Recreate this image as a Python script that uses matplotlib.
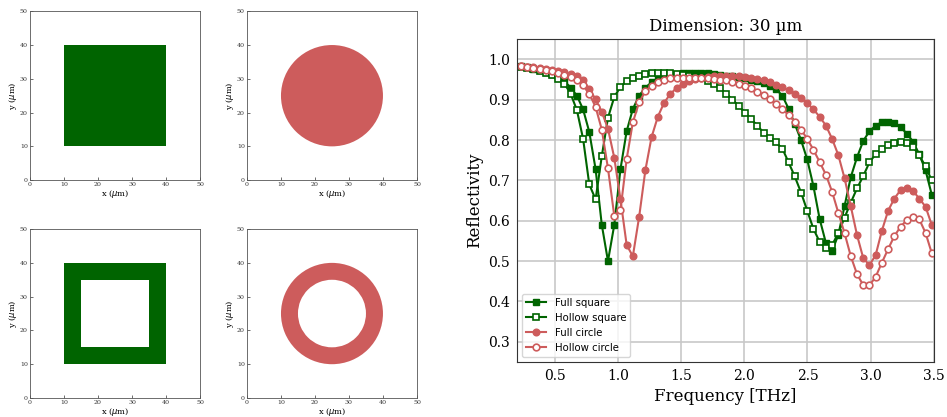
import matplotlib
matplotlib.use("Agg")
import matplotlib.pyplot as plt
from matplotlib.patches import Rectangle, Circle, Wedge

GREEN = "darkgreen"
RED = "indianred"

# frequency grid [THz]
freq = [0.230, 0.279, 0.329, 0.378, 0.427, 0.477, 0.526, 0.575, 0.624, 0.674,
        0.723, 0.772, 0.822, 0.871, 0.920, 0.970, 1.019, 1.068, 1.117, 1.167,
        1.216, 1.265, 1.315, 1.364, 1.413, 1.463, 1.512, 1.561, 1.610, 1.660,
        1.709, 1.758, 1.808, 1.857, 1.906, 1.956, 2.005, 2.054, 2.103, 2.153,
        2.202, 2.251, 2.301, 2.350, 2.399, 2.449, 2.498, 2.547, 2.596, 2.646,
        2.695, 2.744, 2.794, 2.843, 2.892, 2.942, 2.991, 3.040, 3.089, 3.139,
        3.188, 3.237, 3.287, 3.336, 3.385, 3.435, 3.484]

full_square = [0.983, 0.980, 0.977, 0.973, 0.969, 0.963, 0.957, 0.946, 0.930, 0.910,
               0.876, 0.820, 0.728, 0.590, 0.500, 0.590, 0.728, 0.822, 0.877, 0.910,
               0.930, 0.943, 0.952, 0.958, 0.962, 0.964, 0.965, 0.966, 0.966, 0.966,
               0.965, 0.964, 0.962, 0.960, 0.958, 0.956, 0.953, 0.950, 0.946, 0.942,
               0.935, 0.926, 0.910, 0.878, 0.840, 0.800, 0.752, 0.686, 0.605, 0.545,
               0.525, 0.565, 0.637, 0.708, 0.757, 0.798, 0.822, 0.836, 0.844, 0.846,
               0.842, 0.832, 0.816, 0.796, 0.765, 0.725, 0.665]

hollow_square = [0.982, 0.979, 0.976, 0.972, 0.967, 0.961, 0.952, 0.940, 0.915, 0.874,
                 0.803, 0.690, 0.653, 0.760, 0.855, 0.907, 0.932, 0.946, 0.954, 0.960,
                 0.963, 0.965, 0.966, 0.966, 0.965, 0.964, 0.962, 0.960, 0.957, 0.953,
                 0.947, 0.940, 0.928, 0.915, 0.900, 0.885, 0.868, 0.852, 0.836, 0.818,
                 0.805, 0.794, 0.779, 0.745, 0.710, 0.670, 0.625, 0.580, 0.548, 0.532,
                 0.540, 0.569, 0.608, 0.645, 0.680, 0.711, 0.745, 0.765, 0.778, 0.787,
                 0.792, 0.794, 0.792, 0.783, 0.762, 0.735, 0.700]

full_circle = [0.984, 0.982, 0.980, 0.978, 0.976, 0.974, 0.971, 0.968, 0.964, 0.958,
               0.948, 0.927, 0.901, 0.870, 0.828, 0.756, 0.653, 0.540, 0.512, 0.610,
               0.725, 0.807, 0.858, 0.892, 0.914, 0.929, 0.939, 0.946, 0.951, 0.954,
               0.956, 0.958, 0.959, 0.959, 0.959, 0.958, 0.957, 0.955, 0.952, 0.948,
               0.943, 0.937, 0.931, 0.923, 0.915, 0.905, 0.892, 0.876, 0.858, 0.836,
               0.803, 0.763, 0.705, 0.636, 0.565, 0.507, 0.490, 0.515, 0.575, 0.625,
               0.655, 0.676, 0.681, 0.674, 0.655, 0.635, 0.590]

hollow_circle = [0.984, 0.982, 0.979, 0.977, 0.974, 0.971, 0.967, 0.962, 0.956, 0.948,
                 0.936, 0.915, 0.882, 0.826, 0.730, 0.612, 0.627, 0.753, 0.844, 0.894,
                 0.921, 0.935, 0.944, 0.950, 0.953, 0.955, 0.955, 0.955, 0.955, 0.954,
                 0.953, 0.952, 0.950, 0.948, 0.945, 0.940, 0.935, 0.928, 0.920, 0.912,
                 0.902, 0.890, 0.877, 0.862, 0.846, 0.826, 0.803, 0.776, 0.746, 0.714,
                 0.672, 0.620, 0.569, 0.512, 0.468, 0.440, 0.440, 0.461, 0.496, 0.530,
                 0.562, 0.585, 0.602, 0.610, 0.604, 0.570, 0.520]

fig = plt.figure(figsize=(9.47, 4.17), dpi=100)

# ---------- geometry panels ----------
boxes = [(0.0317, 0.568), (0.2608, 0.568), (0.0317, 0.0456), (0.2608, 0.0456)]
geo_axes = [fig.add_axes([x0, y0, 0.1795, 0.405]) for x0, y0 in boxes]

geo_axes[0].add_patch(Rectangle((10, 10), 30, 30, color=GREEN, lw=0))
geo_axes[1].add_patch(Circle((25, 25), 15, color=RED, lw=0))
geo_axes[2].add_patch(Rectangle((10, 10), 30, 30, color=GREEN, lw=0))
geo_axes[2].add_patch(Rectangle((15, 15), 20, 20, color="white", lw=0))
geo_axes[3].add_patch(Wedge((25, 25), 15, 0, 360, width=5, color=RED, lw=0))

for ax in geo_axes:
    ax.set_xlim(0, 50)
    ax.set_ylim(0, 50)
    ax.set_xticks([0, 10, 20, 30, 40, 50])
    ax.set_yticks([0, 10, 20, 30, 40, 50])
    ax.tick_params(direction="in", labelsize=4.5, length=2, width=0.5,
                   pad=1.5, colors="#333333")
    for lab in ax.get_xticklabels() + ax.get_yticklabels():
        lab.set_family("DejaVu Serif")
    ax.set_xlabel(r"x ($\mu$m)", fontsize=6, family="DejaVu Serif", labelpad=0.5)
    ax.set_ylabel(r"y ($\mu$m)", fontsize=6, family="DejaVu Serif", labelpad=0.5)
    for s in ax.spines.values():
        s.set_linewidth(0.6)
        s.set_color("#555555")

# ---------- reflectivity panel ----------
ax = fig.add_axes([0.546, 0.132, 0.44, 0.774])
ax.plot(freq, full_square, "-s", color=GREEN, ms=4.5, lw=1.5, label="Full square")
ax.plot(freq, hollow_square, "-s", color=GREEN, ms=4.5, lw=1.5, mfc="white",
        mew=1.2, label="Hollow square")
ax.plot(freq, full_circle, "-o", color=RED, ms=4.8, lw=1.5, label="Full circle")
ax.plot(freq, hollow_circle, "-o", color=RED, ms=4.8, lw=1.5, mfc="white",
        mew=1.2, label="Hollow circle")

ax.set_xlim(0.2, 3.5)
ax.set_ylim(0.25, 1.05)
ax.set_xticks([0.5, 1.0, 1.5, 2.0, 2.5, 3.0, 3.5])
ax.set_yticks([0.3, 0.4, 0.5, 0.6, 0.7, 0.8, 0.9, 1.0])
ax.grid(True, color="#c8c8c8", lw=1.2)
ax.set_axisbelow(True)
ax.tick_params(length=0, labelsize=10, pad=5)
for lab in ax.get_xticklabels() + ax.get_yticklabels():
    lab.set_family("DejaVu Serif")
for s in ax.spines.values():
    s.set_color("#333333")
ax.set_title("Dimension: 30 µm", fontsize=12, family="DejaVu Serif")
ax.set_xlabel("Frequency [THz]", fontsize=12, family="DejaVu Serif")
ax.set_ylabel("Reflectivity", fontsize=12, family="DejaVu Serif")
ax.legend(loc="lower left", prop={"family": "DejaVu Sans", "size": 7.3})

fig.savefig("out.png", dpi=100)
